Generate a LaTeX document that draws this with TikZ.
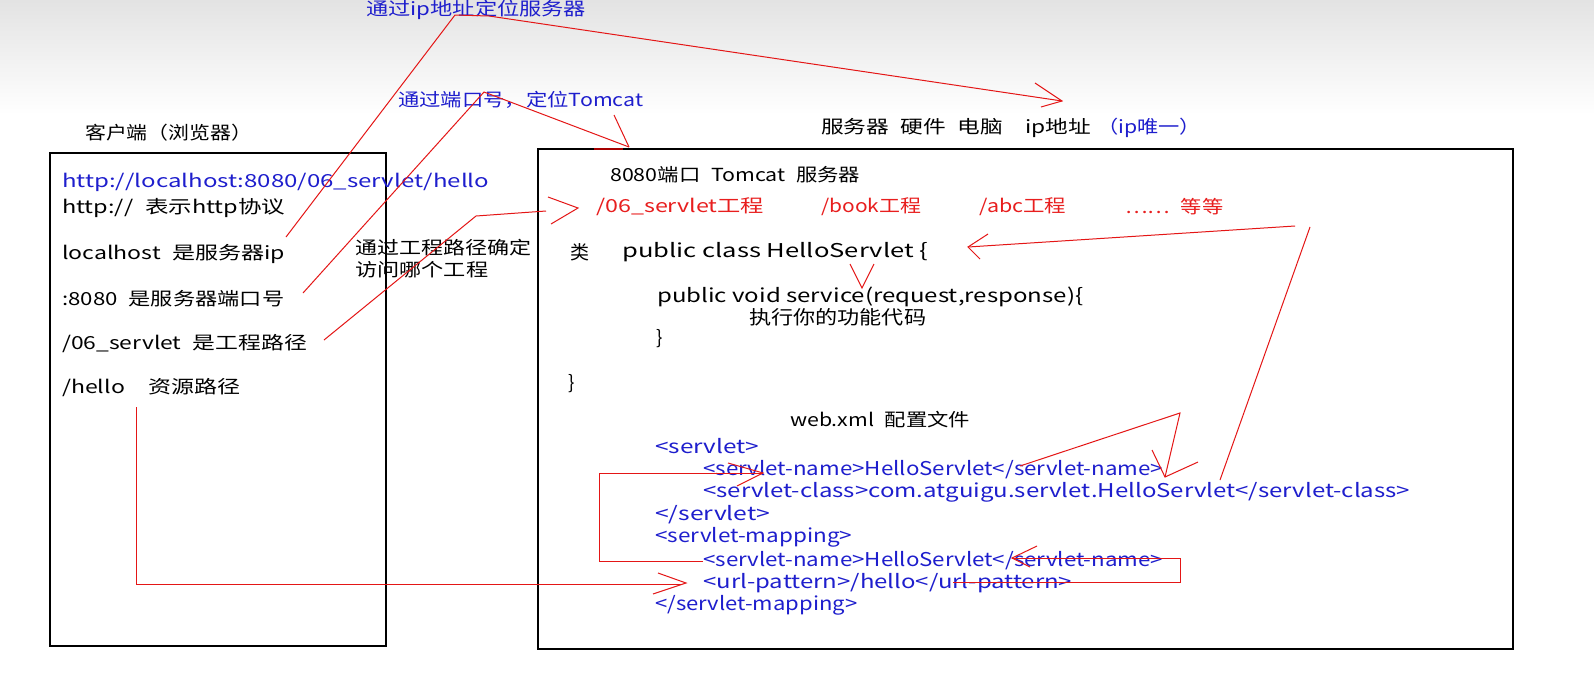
\documentclass[tikz,border=0pt]{standalone}
\usepackage{fontspec}
\setmainfont{Noto Sans CJK SC}
\usepackage{graphicx}
\definecolor{tblue}{RGB}{30,30,205}
\definecolor{tred}{RGB}{232,30,30}
\definecolor{lred}{RGB}{228,22,22}
\newcommand\fitw[2]{\resizebox{#1pt}{\height}{#2}}
\newcommand\widesp{\spaceskip=0.5em plus 0pt minus 0pt\relax}
\begin{document}
\begin{tikzpicture}[x=1pt,y=-1pt,
  txt/.style={anchor=west,inner sep=0pt,font=\fontsize{18}{20}\selectfont\widesp},
  code/.style={anchor=west,inner sep=0pt,font=\fontsize{19}{21}\selectfont},
  xmlt/.style={anchor=west,inner sep=0pt,text=tblue,font=\fontsize{19}{21}\selectfont},
  rl/.style={draw=lred,line width=1pt,line join=miter},
  boxst/.style={draw=black,line width=1.3pt}]
\useasboundingbox (0,0) rectangle (1594,678);
\fill[white] (0,0) rectangle (1594,678);
\shade[top color=black!11,bottom color=white] (0,0) rectangle (1594,115);

% boxes
\draw[boxst] (50,153) rectangle (386,646);
\draw[boxst] (538,149) rectangle (1513,649);

% top labels
\node[txt,text=tblue] (tip) at (366,10) {\fitw{220}{通过ip地址定位服务器}};
\node[txt,text=tblue] (tport) at (398,100) {\fitw{245}{通过端口号，定位Tomcat}};
\node[txt] (tclient) at (85,133) {\fitw{167}{客户端（浏览器）}};
\node[txt] (tserver) at (821,128) {\fitw{270}{服务器 硬件 电脑 \hspace{0.5em}ip地址}};
\node[txt,text=tblue] (tipu) at (1097,128) {\fitw{104}{（ip唯一）}};

% left box
\node[txt,text=tblue] (url) at (62,182) {\fitw{427}{http://localhost:8080/06\_servlet/hello}};
\node[txt] (l1) at (62,208) {\fitw{223}{http:// 表示http协议}};
\node[txt] (l2) at (62,254) {\fitw{223}{localhost 是服务器ip}};
\node[txt] (l3) at (62,299) {\fitw{222}{:8080 是服务器端口号}};
\node[txt] (l4) at (62,344) {\fitw{245}{/06\_servlet 是工程路径}};
\node[txt] (l5) at (62,388) {\fitw{178}{/hello\hspace{1em}资源路径}};
\node[txt] (n1) at (355,248) {\fitw{176}{通过工程路径确定}};
\node[txt] (n2) at (355,270) {\fitw{133}{访问哪个工程}};

% right box
\node[txt] (s0) at (610,175) {\fitw{250}{8080端口 Tomcat 服务器}};
\node[txt,text=tred] (r1) at (596,207) {\fitw{168}{/06\_servlet工程}};
\node[txt,text=tred] (r2) at (821,207) {\fitw{100}{/book工程}};
\node[txt,text=tred] (r3) at (979,207) {\fitw{87}{/abc工程}};
\node[txt,text=tred] (r4) at (1125,207) {\fitw{98}{…… 等等}};
\node[code] (c0) at (570,252) {类};
\node[code] (c1) at (622,252) {\fitw{306}{public class HelloServlet \{}};
\node[code] (c2) at (657,297) {\fitw{426}{public void service(request,response)\{}};
\node[code] (c3) at (749,317) {\fitw{177}{执行你的功能代码}};
\node[code] (c4) at (656,339) {\}};
\node[code] (c5) at (568,384) {\}};
\node[txt] (w0) at (790,420) {\fitw{180}{web.xml 配置文件}};
\node[xmlt] (x1) at (655,446) {\fitw{104}{<servlet>}};
\node[xmlt] (x2) at (703,470) {\fitw{460}{<servlet-name>HelloServlet</servlet-name>}};
\node[xmlt] (x3) at (703,492) {\fitw{707}{<servlet-class>com.atguigu.servlet.HelloServlet</servlet-class>}};
\node[xmlt] (x4) at (655,515) {\fitw{115}{</servlet>}};
\node[xmlt] (x5) at (655,537) {\fitw{197}{<servlet-mapping>}};
\node[xmlt] (x6) at (703,561) {\fitw{460}{<servlet-name>HelloServlet</servlet-name>}};
\node[xmlt] (x7) at (703,583) {\fitw{369}{<url-pattern>/hello</url-pattern>}};
\node[xmlt] (x8) at (655,605) {\fitw{202}{</servlet-mapping>}};

% red connector coordinates
\coordinate (a0) at (286,237); \coordinate (a1) at (455,15); \coordinate (a2) at (489,16);
\coordinate (a3) at (1062,101); \coordinate (a4) at (1035,83); \coordinate (a5) at (1041,107);
\coordinate (b0) at (303,293); \coordinate (b1) at (484,92); \coordinate (b2) at (629,147);
\coordinate (b3) at (614,115); \coordinate (b4) at (594,149); \coordinate (b5) at (623,149);
\coordinate (c0a) at (324,340); \coordinate (c1a) at (476,216); \coordinate (c2a) at (546,211);
\coordinate (c3a) at (578,208); \coordinate (c4a) at (548,197); \coordinate (c5a) at (551,224);
\coordinate (d0) at (136,407); \coordinate (d1) at (136,584); \coordinate (d2) at (681,584);
\coordinate (d3) at (686,583); \coordinate (d4) at (658,573); \coordinate (d5) at (653,594);
\coordinate (e0) at (953,582); \coordinate (e1) at (1180,582); \coordinate (e2) at (1180,558);
\coordinate (e3) at (1012,558); \coordinate (e4) at (1037,546); \coordinate (e5) at (1030,567);
\coordinate (f0) at (703,561); \coordinate (f1) at (599,561); \coordinate (f2) at (599,473);
\coordinate (f3) at (763,473); \coordinate (f4) at (728,463); \coordinate (f5) at (737,486);
\coordinate (g0) at (1020,466); \coordinate (g1) at (1180,413); \coordinate (g2) at (1165,477);
\coordinate (g3) at (1152,450); \coordinate (g4) at (1198,462);
\coordinate (h0) at (1220,480); \coordinate (h1) at (1310,227); \coordinate (h2) at (1295,226);
\coordinate (h3) at (968,247); \coordinate (h4) at (988,234); \coordinate (h5) at (980,259);
\coordinate (i0) at (850,264); \coordinate (i1) at (862,288); \coordinate (i2) at (874,264);

% red connectors
\draw[rl] (a0) -- (a1) -- (a2) -- (a3);
\draw[rl] (a4) -- (a3) -- (a5);
\draw[rl] (b0) -- (b1) -- (b2);
\draw[rl] (b3) -- (b2);
\draw[draw=red!65!black,line width=2.5pt] (b4) -- (b5);
\draw[rl] (c0a) -- (c1a) -- (c2a);
\draw[rl] (c4a) -- (c3a) -- (c5a);
\draw[rl] (d0) -- (d1) -- (d2);
\draw[rl] (d4) -- (d3) -- (d5);
\draw[rl] (e0) -- (e1) -- (e2) -- (e3);
\draw[rl] (e4) -- (e3) -- (e5);
\draw[rl] (f0) -- (f1) -- (f2) -- (f3);
\draw[rl] (f4) -- (f3) -- (f5);
\draw[rl] (g0) -- (g1) -- (g2);
\draw[rl] (g3) -- (g2) -- (g4);
\draw[rl] (h0) -- (h1);
\draw[rl] (h2) -- (h3);
\draw[rl] (h4) -- (h3) -- (h5);
\draw[rl] (i0) -- (i1) -- (i2);
\end{tikzpicture}
\end{document}
